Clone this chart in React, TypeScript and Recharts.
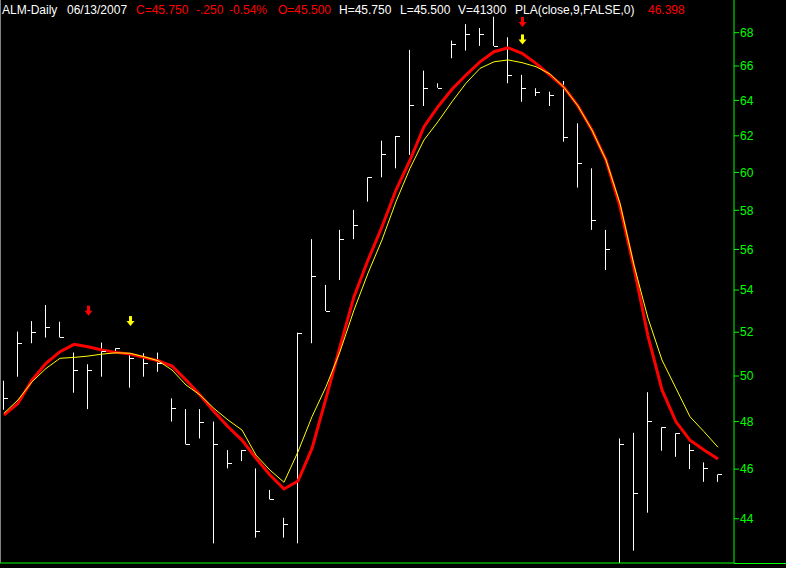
import React from "react";
import { ComposedChart, Bar, Line, Scatter, XAxis, YAxis } from "recharts";

// daily bars, oldest first
const highs = [
  49.79, 52.03, 52.52, 53.28, 52.49, 51.06, 50.53, 51.52, 51.26, 51.03,
  51.03, 51.06, 49.01, 48.54, 48.54, 48.0, 46.79, 46.79, 46.03, 45.15,
  44.04, 51.98, 56.52, 54.25, 56.99, 58.02, 59.74, 61.73, 61.99, 66.96,
  65.73, 64.99, 67.52, 68.52, 68.28, 68.98, 67.72, 65.48, 64.7, 64.5,
  65.12, 62.7, 60.22, 56.99, 47.28, 47.52, 49.28, 47.76, 47.5, 47.04,
  46.28, 45.78,
];
const lows = [
  48.51, 49.97, 51.49, 51.75, 51.76, 49.26, 48.54, 49.97, 51.03, 49.48,
  49.97, 50.19, 48.0, 47.03, 47.28, 43.04, 46.03, 46.33, 43.26, 44.77,
  43.26, 43.04, 51.49, 53.0, 54.49, 56.52, 58.45, 59.74, 60.22, 60.95,
  63.68, 64.73, 66.46, 66.92, 67.2, 67.2, 64.99, 63.92, 64.25, 63.68,
  61.68, 59.19, 56.99, 54.98, 42.29, 42.76, 44.24, 46.76, 46.51, 46.0,
  45.48, 45.48,
];
const closes = [
  49.03, 51.52, 52.03, 52.23, 51.76, 50.27, 50.29, 51.13, 51.26, 50.8,
  50.57, 50.57, 48.58, 47.03, 48.0, 47.03, 46.26, 46.79, 43.52, 44.77,
  43.78, 51.98, 54.69, 53.0, 56.52, 57.25, 59.74, 60.98, 61.99, 63.74,
  64.73, 64.73, 67.3, 67.91, 67.91, 67.2, 65.48, 64.73, 64.5, 64.31,
  61.95, 60.49, 57.5, 56.03, 47.03, 45.01, 48.01, 47.76, 47.5, 46.79,
  46.03, 45.78,
];

// PLA(close,9) and its companion line
const plaRed = [
  48.28, 48.79, 49.82, 50.57, 51.1, 51.44, 51.33, 51.18, 51.07, 50.99,
  50.84, 50.69, 50.45, 49.82, 49.16, 48.43, 47.78, 47.21, 46.45, 45.76,
  45.19, 45.51, 46.86, 49.01, 51.33, 53.68, 55.47, 57.15, 59.06, 60.67,
  62.51, 63.64, 64.64, 65.47, 66.25, 66.85, 67.09, 66.76, 66.16, 65.47,
  64.75, 63.68, 62.32, 60.67, 58.19, 55.08, 51.82, 49.38, 47.99, 47.21,
  46.79, 46.42,
];
const plaYellow = [
  48.36, 48.94, 49.74, 50.34, 50.8, 50.84, 50.9, 50.99, 51.05, 51.03,
  50.87, 50.69, 50.27, 49.6, 49.16, 48.57, 48.07, 47.64, 46.58, 45.96,
  45.46, 46.72, 48.21, 49.52, 51.1, 53.04, 54.82, 56.48, 58.45, 60.22,
  61.77, 62.79, 63.92, 64.99, 65.86, 66.25, 66.36, 66.2, 65.96, 65.53,
  64.75, 63.68, 62.32, 60.67, 58.36, 55.22, 52.66, 50.72, 49.45, 48.21,
  47.57, 46.91,
];

const redArrows = [
  { i: 6, v: 53.01 },
  { i: 37, v: 68.66 },
];
const yellowArrows = [
  { i: 9, v: 52.52 },
  { i: 37, v: 67.59 },
];

const priceTicks = [44, 46, 48, 50, 52, 54, 56, 58, 60, 62, 64, 66, 68];
const dateTicks = [4, 7, 9, 12, 17, 22, 27, 28, 35, 43, 44, 49];

const rows = highs.map((h, i) => ({
  i,
  hl: [lows[i], h],
  close: closes[i],
  red: plaRed[i],
  yellow: plaYellow[i],
}));
const closeRows = rows.map((r) => ({ i: r.i, close: r.close }));

const GREEN = "#00ff00";
const FONT = "'Liberation Sans', Arial, sans-serif";

const HLBar = (props: any) => {
  const { x, y, width, height } = props;
  if (x == null || y == null) return null;
  const cx = Math.round(x + width / 2) + 0.5;
  const top = Math.min(y, y + height);
  const bottom = Math.max(y, y + height);
  return <line x1={cx} x2={cx} y1={top} y2={bottom} stroke="#ffffff" strokeWidth={1} />;
};

const CloseTick = (props: any) => {
  const { cx, cy } = props;
  if (cx == null || cy == null) return null;
  const x0 = Math.round(cx);
  const y0 = Math.round(cy) + 0.5;
  return <line x1={x0} x2={x0 + 4} y1={y0} y2={y0} stroke="#ffffff" strokeWidth={1} />;
};

const makeArrow = (color: string) => (props: any) => {
  const { cx, cy } = props;
  if (cx == null || cy == null) return null;
  const x = Math.round(cx) + 0.5;
  return (
    <g>
      <rect x={x - 1.5} y={cy - 5} width={3} height={6} fill={color} />
      <polygon points={`${x - 4},${cy} ${x + 4},${cy} ${x},${cy + 5}`} fill={color} />
    </g>
  );
};

const header = [
  { x: 2, text: "ALM-Daily", color: "#ffffff" },
  { x: 67, text: "06/13/2007", color: "#ffffff" },
  { x: 136, text: "C=45.750", color: "#ff0000" },
  { x: 196, text: "-.250", color: "#ff0000" },
  { x: 229, text: "-0.54%", color: "#ff0000" },
  { x: 278, text: "O=45.500", color: "#ff0000" },
  { x: 339, text: "H=45.750", color: "#ffffff" },
  { x: 400, text: "L=45.500", color: "#ffffff" },
  { x: 458, text: "V=41300", color: "#ffffff" },
  { x: 515, text: "PLA(close,9,FALSE,0)", color: "#ffffff" },
  { x: 648, text: "46.398", color: "#ff0000" },
];

export default function App() {
  return (
    <div style={{ position: "absolute", left: 0, top: 0, width: 786, height: 568, background: "#000000", overflow: "hidden" }}>
      <ComposedChart width={786} height={568} data={rows} margin={{ top: 0, right: 0, bottom: 0, left: 0 }}>
        <XAxis
          type="number"
          dataKey="i"
          domain={[-0.2857, 52.143]}
          allowDataOverflow
          ticks={dateTicks}
          tick={false}
          height={5}
          tickSize={5}
          axisLine={{ stroke: GREEN }}
          tickLine={{ stroke: GREEN }}
        />
        <YAxis
          orientation="right"
          scale="log"
          domain={[42.29, 70.02]}
          allowDataOverflow
          ticks={priceTicks}
          interval={0}
          width={52}
          tickSize={5}
          tickMargin={1}
          axisLine={{ stroke: GREEN }}
          tickLine={{ stroke: GREEN }}
          tick={{ fill: GREEN, fontSize: 12, fontFamily: FONT }}
        />
        <Bar dataKey="hl" barSize={1} shape={HLBar} isAnimationActive={false} />
        <Scatter data={closeRows} dataKey="close" shape={CloseTick} isAnimationActive={false} />
        <Line type="linear" dataKey="red" stroke="#ff0000" strokeWidth={3} dot={false} activeDot={false} isAnimationActive={false} />
        <Line type="linear" dataKey="yellow" stroke="#ffff00" strokeWidth={1} dot={false} activeDot={false} isAnimationActive={false} />
        <Scatter data={redArrows} dataKey="v" shape={makeArrow("#ff0000")} isAnimationActive={false} />
        <Scatter data={yellowArrows} dataKey="v" shape={makeArrow("#ffff00")} isAnimationActive={false} />
      </ComposedChart>
      <div style={{ position: "absolute", left: 734, top: 563, width: 52, height: 1, background: GREEN }} />
      <div style={{ position: "absolute", left: 0, top: 0, width: 1, height: 563, background: "#808080" }} />
      <svg width={786} height={20} style={{ position: "absolute", left: 0, top: 0, pointerEvents: "none" }}>
        {header.map((h) => (
          <text key={h.text} x={h.x} y={14} fill={h.color} fontSize={12} fontFamily={FONT}>
            {h.text}
          </text>
        ))}
      </svg>
    </div>
  );
}
